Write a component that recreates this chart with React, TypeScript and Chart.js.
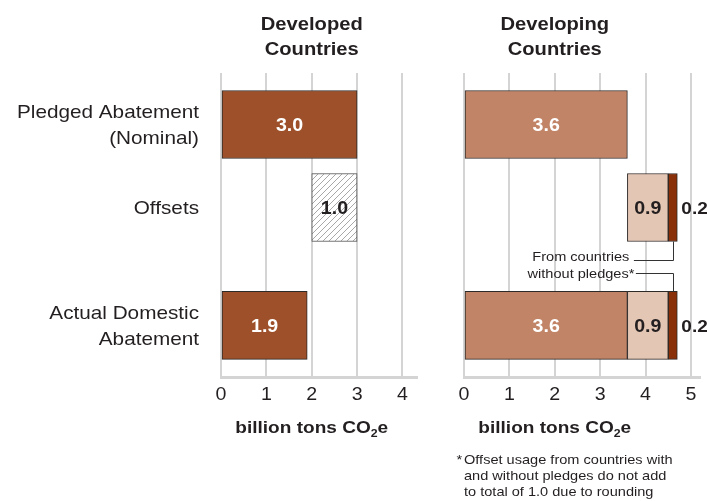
import React, { useEffect, useRef } from "react";
import { Chart, registerables } from "chart.js";

Chart.register(...registerables);

// ---------- data ----------
const categories: string[][] = [["Pledged Abatement", "(Nominal)"], ["Offsets"], ["Actual Domestic", "Abatement"]];
const rowPositions = [1, 2, 3.42];

const developedTitle = ["Developed", "Countries"];
const developingTitle = ["Developing", "Countries"];
const developedTickLabels = ["0", "1", "2", "3", "4"];
const developingTickLabels = ["0", "1", "2", "3", "4", "5"];

// pledged, offsets, actual domestic
const developedValues = [3.0, 1.0, 1.9];

// developing: per row (pledged, offsets, actual)
const developingDomestic = [3.6, 0, 3.6];
const developingOffsetsWithPledges = [0, 0.9, 0.9];
const developingOffsetsWithoutPledges = [0, 0.2, 0.2];

const annotationLines = ["From countries", "without pledges*"];
const footnoteLines = ["Offset usage from countries with", "and without pledges do not add", "to total of 1.0 due to rounding"];

// ---------- style ----------
const FONT = '"Liberation Sans", Arial, Helvetica, sans-serif';
const SX = 1.12;
const TEXT = "#231f20";
const GRID = "#d4d4d4";
const BORDER = "#2e2a28";
const C_DEVELOPED = "#9d5029";
const C_MAIN = "#c18467";
const C_LIGHT = "#e4c6b4";
const C_DARK = "#8a3008";

function txt(ctx: CanvasRenderingContext2D, s: string, x: number, y: number, font: string, color: string, align: CanvasTextAlign) {
  ctx.save();
  ctx.font = font;
  ctx.fillStyle = color;
  ctx.textBaseline = "alphabetic";
  ctx.textAlign = align;
  ctx.translate(x, y);
  ctx.scale(SX, 1);
  ctx.fillText(s, 0, 0);
  ctx.restore();
}

function makeHatch(): CanvasPattern | string {
  const c = document.createElement("canvas");
  c.width = 6;
  c.height = 6;
  const g = c.getContext("2d");
  if (!g) return "#eee";
  g.fillStyle = "#fff";
  g.fillRect(0, 0, 6, 6);
  g.strokeStyle = "#a8a8a8";
  g.lineWidth = 1;
  g.beginPath();
  g.moveTo(0, 6);
  g.lineTo(6, 0);
  g.moveTo(-1, 1);
  g.lineTo(1, -1);
  g.moveTo(5, 7);
  g.lineTo(7, 5);
  g.stroke();
  return g.createPattern(c, "repeat") || "#eee";
}

function drawCommon(chart: any, title: string[], tickLabels: string[]) {
  const ctx: CanvasRenderingContext2D = chart.ctx;
  const xs = chart.scales.x;
  const cx = xs.getPixelForValue(2);
  txt(ctx, title[0], cx, 29.5, `bold 18px ${FONT}`, TEXT, "center");
  txt(ctx, title[1], cx, 55, `bold 18px ${FONT}`, TEXT, "center");
  tickLabels.forEach((lab, i) => {
    txt(ctx, lab, xs.getPixelForValue(i), 399.5, `17.5px ${FONT}`, TEXT, "center");
  });
  // axis title with subscript
  ctx.save();
  const f1 = `bold 17px ${FONT}`;
  const f2 = `bold 11px ${FONT}`;
  ctx.font = f1;
  const w1 = ctx.measureText("billion tons CO").width;
  const w3 = ctx.measureText("e").width;
  ctx.font = f2;
  const w2 = ctx.measureText("2").width;
  ctx.restore();
  const total = (w1 + w2 + w3) * SX;
  let sx = cx - total / 2;
  txt(ctx, "billion tons CO", sx, 432.5, f1, TEXT, "left");
  sx += w1 * SX;
  txt(ctx, "2", sx, 437, f2, TEXT, "left");
  sx += w2 * SX;
  txt(ctx, "e", sx, 432.5, f1, TEXT, "left");
}

function drawValueLabels(chart: any) {
  const ctx: CanvasRenderingContext2D = chart.ctx;
  chart.data.datasets.forEach((ds: any, di: number) => {
    const meta = chart.getDatasetMeta(di);
    meta.data.forEach((el: any, i: number) => {
      const raw = ds.data[i].x;
      const v = raw[1] - raw[0];
      const p = el.getProps(["x", "base", "y"], true);
      const colors = ds.labelColor;
      const color = Array.isArray(colors) ? colors[i] : colors;
      const label = v.toFixed(1);
      if (ds.labelOutside) {
        txt(ctx, label, Math.max(p.x, p.base) + 4, p.y + 6.5, `bold 17px ${FONT}`, TEXT, "left");
      } else {
        txt(ctx, label, (p.x + p.base) / 2, p.y + 6.5, `bold 17.5px ${FONT}`, color, "center");
      }
    });
  });
}

const leftPlugin = {
  id: "leftDecor",
  afterDraw(chart: any) {
    const ctx: CanvasRenderingContext2D = chart.ctx;
    const ys = chart.scales.y;
    drawCommon(chart, developedTitle, developedTickLabels);
    categories.forEach((lines, i) => {
      const c = ys.getPixelForValue(rowPositions[i]);
      const n = lines.length;
      lines.forEach((line, j) => {
        const b = c + (j - (n - 1) / 2) * 25.5 + 6.5;
        txt(ctx, line, 199, b, `18.5px ${FONT}`, TEXT, "right");
      });
    });
    drawValueLabels(chart);
  },
};

const rightPlugin = {
  id: "rightDecor",
  afterDraw(chart: any) {
    const ctx: CanvasRenderingContext2D = chart.ctx;
    const xs = chart.scales.x;
    drawCommon(chart, developingTitle, developingTickLabels);
    drawValueLabels(chart);

    // annotation with leader lines
    const withoutDs = chart.getDatasetMeta(2).data;
    const eOff = withoutDs[0].getProps(["x", "base", "y", "height"], true);
    const eAct = withoutDs[1].getProps(["x", "base", "y", "height"], true);
    const leaderX = Math.round((eOff.x + eOff.base) / 2) + 0.5;
    const offBottom = eOff.y + eOff.height / 2;
    const actTop = eAct.y - eAct.height / 2;
    const textRight = xs.getPixelForValue(developingDomestic[0]) + 2;
    const b1 = offBottom + 19;
    const b2 = b1 + 17.3;
    txt(ctx, annotationLines[0], textRight, b1, `13px ${FONT}`, TEXT, "right");
    txt(ctx, annotationLines[1], textRight + 5, b2, `13px ${FONT}`, TEXT, "right");
    ctx.save();
    ctx.strokeStyle = "#333";
    ctx.lineWidth = 1;
    const y1 = Math.round(b1 - 1) + 0.5;
    const y2 = Math.round(b2 - 5) + 0.5;
    ctx.beginPath();
    ctx.moveTo(textRight + 4.5, y1);
    ctx.lineTo(leaderX, y1);
    ctx.lineTo(leaderX, offBottom);
    ctx.moveTo(textRight + 6.5, y2);
    ctx.lineTo(leaderX, y2);
    ctx.lineTo(leaderX, actTop);
    ctx.stroke();
    ctx.restore();

    // footnote
    const fx = chart.chartArea.left;
    txt(ctx, "*", fx - 7.5, 464, `13px ${FONT}`, TEXT, "left");
    footnoteLines.forEach((line, i) => {
      txt(ctx, line, fx, 464 + i * 15.8, `13px ${FONT}`, TEXT, "left");
    });
  },
};

function makeOptions(max: number, padLeft: number, padRight: number): any {
  return {
    indexAxis: "y",
    responsive: false,
    devicePixelRatio: 1,
    animation: false,
    events: [],
    layout: { padding: { left: padLeft, right: padRight, top: 73, bottom: 0 } },
    plugins: { legend: { display: false }, tooltip: { enabled: false }, title: { display: false } },
    scales: {
      x: {
        type: "linear",
        min: 0,
        max,
        offset: false,
        grid: { color: GRID, lineWidth: 2, drawTicks: false, offset: false },
        border: { display: true, color: GRID, width: 3 },
        ticks: { display: false, stepSize: 1, includeBounds: false },
        afterBuildTicks: (s: any) => {
          s.ticks = s.ticks.filter((t: any) => Number.isInteger(t.value));
        },
        afterFit: (s: any) => {
          s.height = 124;
        },
      },
      y: {
        type: "linear",
        reverse: true,
        min: 0.3795,
        max: 4.042,
        offset: false,
        grid: { offset: false },
        display: false,
      },
    },
  };
}

export default function App() {
  const leftRef = useRef<HTMLCanvasElement>(null);
  const rightRef = useRef<HTMLCanvasElement>(null);

  useEffect(() => {
    const hatch = makeHatch();

    // developed: offsets row drawn ending at pledged value
    const developedStarts = [0, developedValues[0] - developedValues[1], 0];
    const leftData = developedValues.map((v, i) => ({ x: [developedStarts[i], developedStarts[i] + v], y: rowPositions[i] }));

    const left = new Chart(leftRef.current as HTMLCanvasElement, {
      type: "bar",
      data: {
        datasets: [
          {
            data: leftData,
            backgroundColor: [C_DEVELOPED, hatch, C_DEVELOPED],
            borderColor: [BORDER, "#4a4a4a", BORDER],
            borderWidth: 1,
            borderSkipped: false,
            barThickness: 68,
            grouped: false,
            labelColor: ["#ffffff", TEXT, "#ffffff"],
          } as any,
        ],
      },
      options: makeOptions(4.32, 221, 23),
      plugins: [leftPlugin],
    });

    const starts = [0, developingDomestic[0], 0];
    const mainData: any[] = [];
    const withData: any[] = [];
    const withoutData: any[] = [];
    rowPositions.forEach((y, i) => {
      const s0 = starts[i];
      const s1 = s0 + developingDomestic[i];
      const s2 = s1 + developingOffsetsWithPledges[i];
      const s3 = s2 + developingOffsetsWithoutPledges[i];
      if (developingDomestic[i] > 0) mainData.push({ x: [s0, s1], y });
      if (developingOffsetsWithPledges[i] > 0) withData.push({ x: [s1, s2], y });
      if (developingOffsetsWithoutPledges[i] > 0) withoutData.push({ x: [s2, s3], y });
    });

    const right = new Chart(rightRef.current as HTMLCanvasElement, {
      type: "bar",
      data: {
        datasets: [
          { data: mainData, backgroundColor: C_MAIN, borderColor: BORDER, borderWidth: 1, borderSkipped: false, barThickness: 68, grouped: false, labelColor: "#ffffff" } as any,
          { data: withData, backgroundColor: C_LIGHT, borderColor: BORDER, borderWidth: 1, borderSkipped: false, barThickness: 68, grouped: false, labelColor: TEXT } as any,
          { data: withoutData, backgroundColor: C_DARK, borderColor: BORDER, borderWidth: 1, borderSkipped: false, barThickness: 68, grouped: false, labelColor: TEXT, labelOutside: true } as any,
        ],
      },
      options: makeOptions(5.2, 24, 7),
      plugins: [rightPlugin],
    });

    return () => {
      left.destroy();
      right.destroy();
    };
  }, []);

  return (
    <div style={{ position: "absolute", left: 0, top: 0, width: 707, height: 501, background: "#fff" }}>
      <canvas ref={leftRef} width={440} height={501} style={{ position: "absolute", left: 0, top: 0, width: 440, height: 501 }} />
      <canvas ref={rightRef} width={267} height={501} style={{ position: "absolute", left: 440, top: 0, width: 267, height: 501 }} />
    </div>
  );
}
